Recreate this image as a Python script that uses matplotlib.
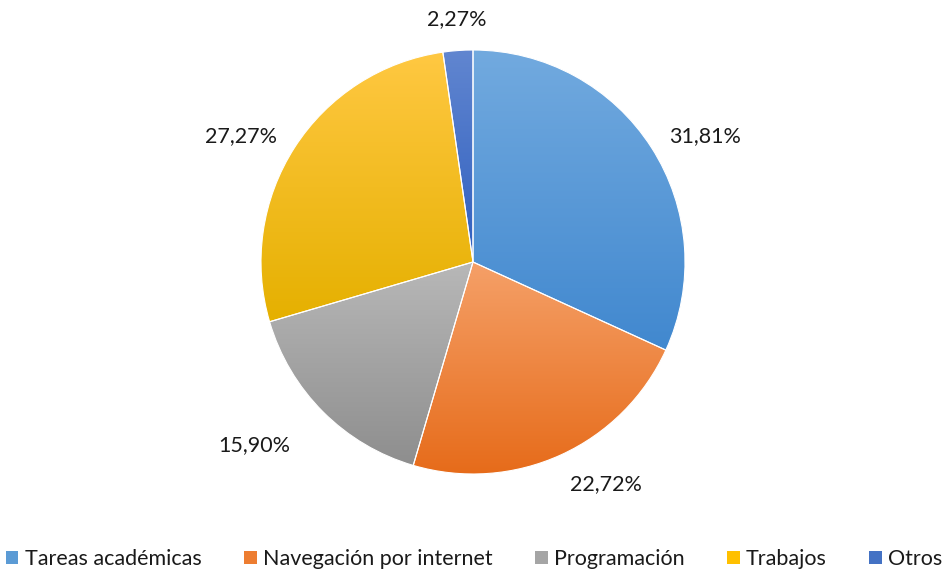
import numpy as np
import matplotlib
matplotlib.use("Agg")
import matplotlib.pyplot as plt
from matplotlib.colors import to_rgb
from matplotlib.patches import Patch

plt.rcParams['font.family'] = ['Lato', 'DejaVu Sans']

# datos del grafico
categorias = ['Tareas académicas', 'Navegación por internet', 'Programación', 'Trabajos', 'Otros']
valores = [31.81, 22.72, 15.90, 27.27, 2.27]
etiquetas = ['31,81%', '22,72%', '15,90%', '27,27%', '2,27%']

# colores degradados (arriba claro, abajo oscuro)
col_arriba = ['#72AADF', '#F5A068', '#B8B8B8', '#FFC842', '#6186D0']
col_abajo = ['#4188CF', '#E66A18', '#8E8E8E', '#E5B000', '#2F5FBF']
col_leyenda = ['#5B9BD5', '#ED7D31', '#A5A5A5', '#FFC000', '#4472C4']
dist_etiqueta = [1.1, 1.1, 1.22, 1.1, 1.1]

fig = plt.figure(figsize=(9.48, 5.71), dpi=100)
ax = fig.add_axes([(473 - 212) / 948, (571 - 474) / 571, 424 / 948, 424 / 571])

wedges, _ = ax.pie(valores, startangle=90, counterclock=False, radius=1,
                   wedgeprops=dict(linewidth=0.8, edgecolor='white'))
ax.set_aspect('equal')
ax.axis('off')

# degradado dentro de cada porcion
for w, c1, c2 in zip(wedges, col_arriba, col_abajo):
    w.set_facecolor('none')
    verts = w.get_path().vertices
    y0, y1 = verts[:, 1].min(), verts[:, 1].max()
    x0, x1 = verts[:, 0].min(), verts[:, 0].max()
    t = np.linspace(0, 1, 256)[:, None]
    a, b = np.array(to_rgb(c1)), np.array(to_rgb(c2))
    grad = np.repeat((a * (1 - t) + b * t)[:, None, :], 2, axis=1)
    im = ax.imshow(grad, extent=[x0, x1, y0, y1], origin='upper',
                   aspect='auto', zorder=1, interpolation='bilinear')
    im.set_clip_path(w)
    w.set_zorder(2)

ax.set_xlim(-1, 1)
ax.set_ylim(-1, 1)

# etiquetas de porcentaje
for w, txt, d in zip(wedges, etiquetas, dist_etiqueta):
    ang = np.deg2rad((w.theta1 + w.theta2) / 2)
    cx, sy = np.cos(ang), np.sin(ang)
    ha = 'left' if cx > 0.25 else ('right' if cx < -0.25 else 'center')
    if sy > 0.9:
        va = 'bottom'
    elif sy < -0.8:
        va = 'top'
    else:
        va = 'center'
    ax.text(d * cx, d * sy, txt, ha=ha, va=va, fontsize=15.5, color='#1a1a1a')

handles = [Patch(facecolor=c, edgecolor='none') for c in col_leyenda]
fig.legend(handles, categorias, loc='center', bbox_to_anchor=(0.5, 1 - 559 / 571),
           ncol=5, frameon=False, fontsize=15.5, handlelength=0.6, handleheight=0.6,
           handletextpad=0.3, columnspacing=1.95, labelcolor='#1a1a1a')

fig.savefig('out.png', dpi=100, facecolor='white')
